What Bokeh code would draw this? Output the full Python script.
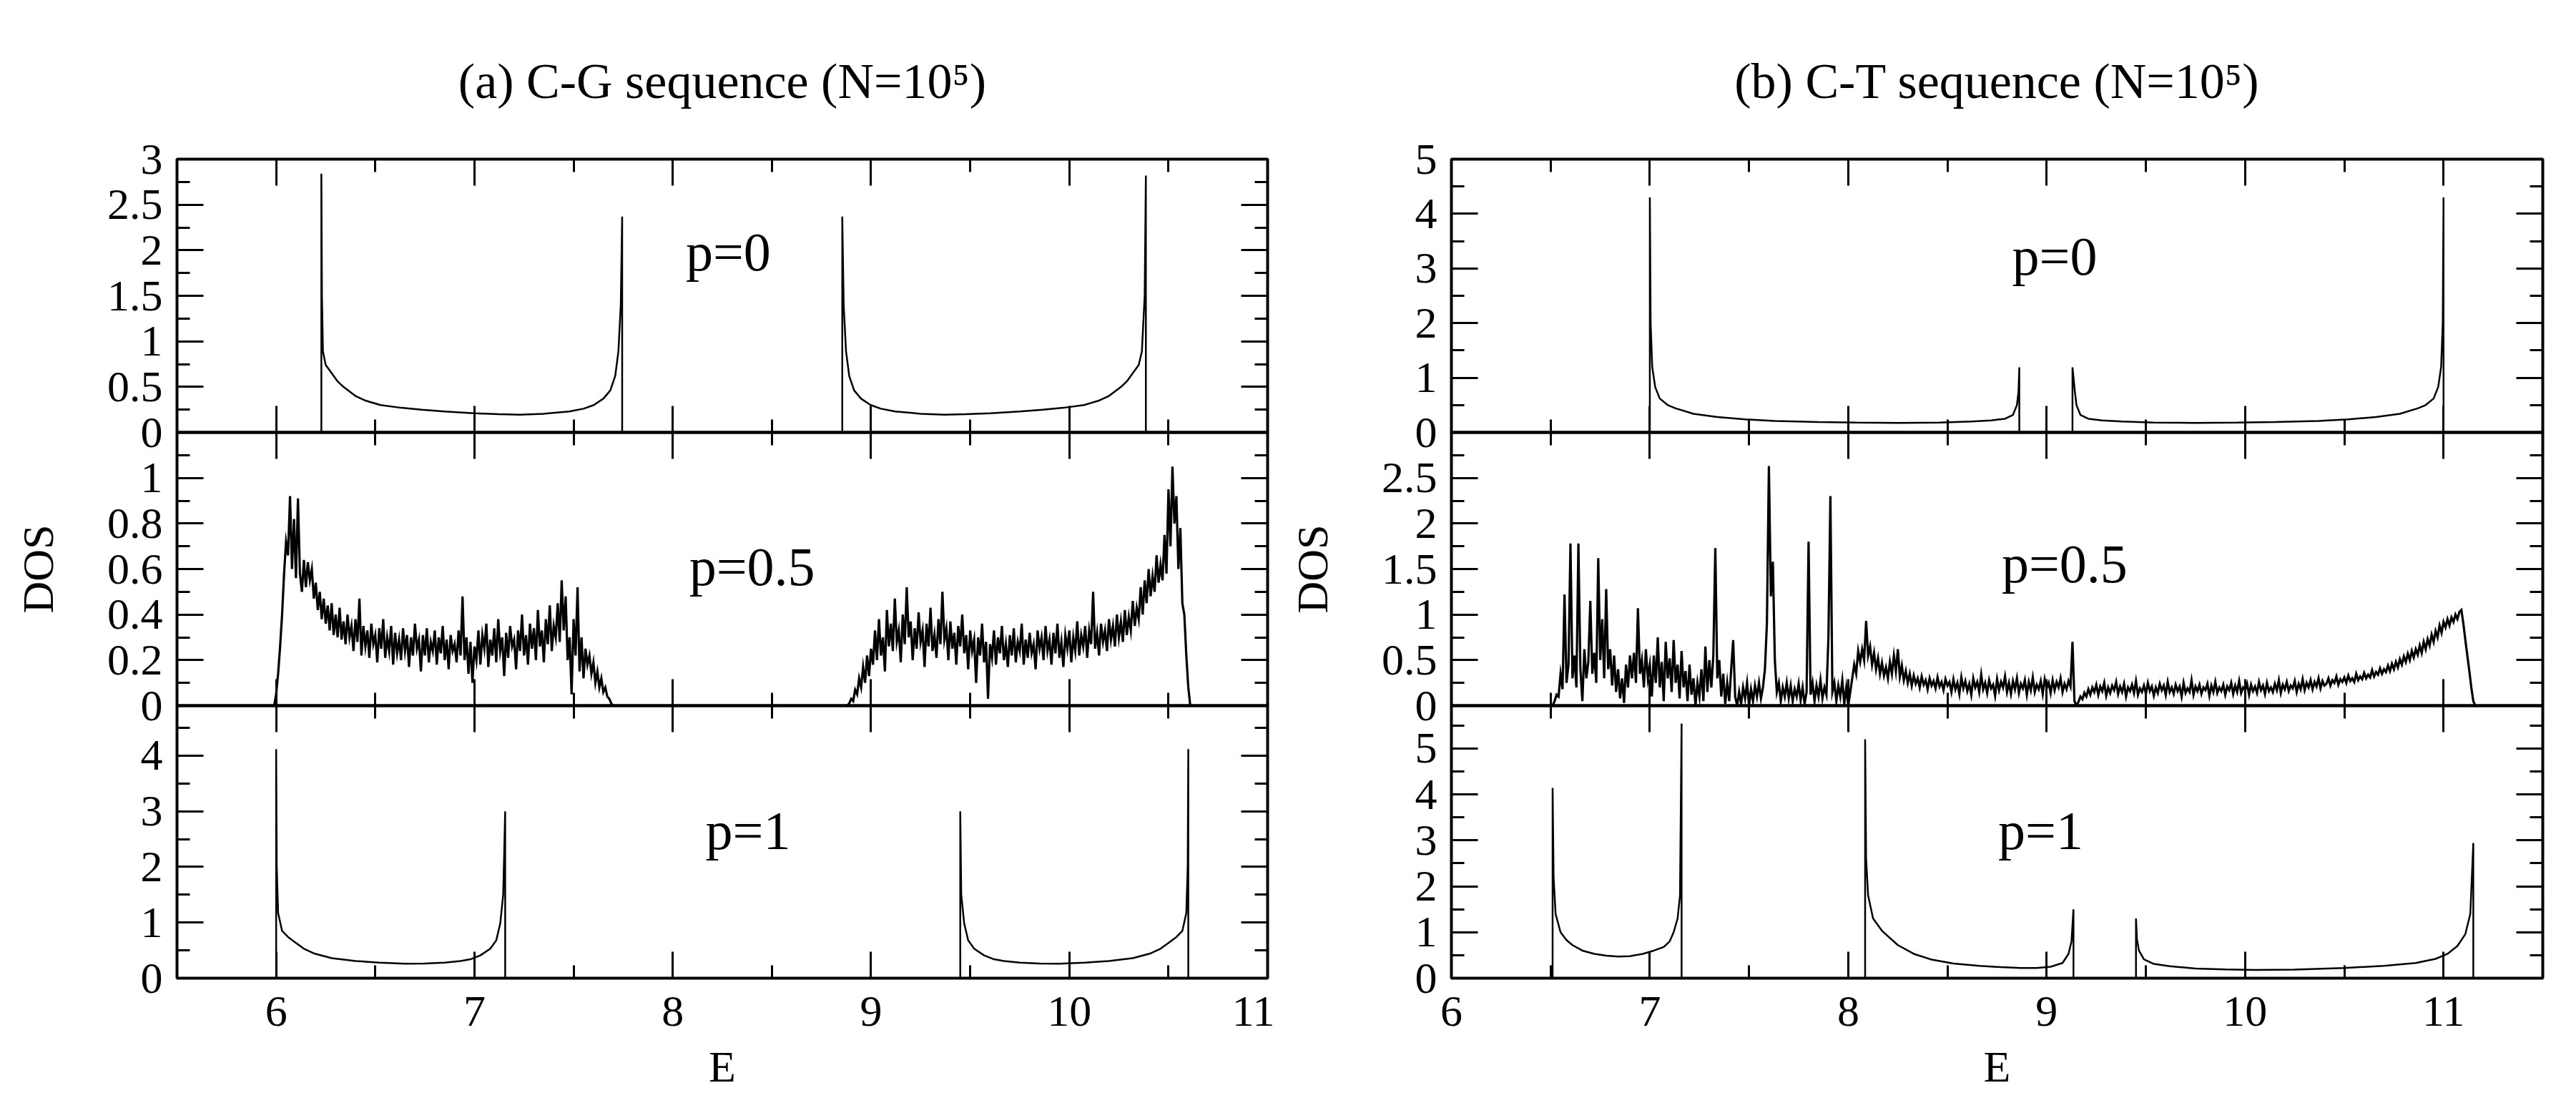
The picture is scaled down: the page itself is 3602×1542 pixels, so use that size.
import numpy as np
from bokeh.plotting import figure
from bokeh.layouts import row, column
from bokeh.models import (LinearAxis, FixedTicker, Range1d, Label, Title,
                          CustomJSTickFormatter)
from bokeh.embed import file_html
from bokeh.resources import INLINE

FONT = "Liberation Serif"

# ---------------- tick definitions ----------------
X_MAJOR = [6, 7, 8, 9, 10, 11]
X_MINOR_LEFT = [6.5, 7.5, 8.5, 9.5, 10.5]
X_MINOR_RIGHT = [6.5, 7.5, 8.5, 9.5, 10.5]

CG_P0_YMAJ = [0, 0.5, 1, 1.5, 2, 2.5, 3]
CG_P0_YMIN = [0.25, 0.75, 1.25, 1.75, 2.25, 2.75]
CG_P05_YMAJ = [0, 0.2, 0.4, 0.6, 0.8, 1.0]
CG_P05_YMIN = [0.1, 0.3, 0.5, 0.7, 0.9, 1.1]
CG_P1_YMAJ = [0, 1, 2, 3, 4]
CG_P1_YMIN = [0.5, 1.5, 2.5, 3.5, 4.5]
CT_P0_YMAJ = [0, 1, 2, 3, 4, 5]
CT_P0_YMIN = [0.5, 1.5, 2.5, 3.5, 4.5]
CT_P05_YMAJ = [0, 0.5, 1, 1.5, 2, 2.5]
CT_P05_YMIN = [0.25, 0.75, 1.25, 1.75, 2.25, 2.75]
CT_P1_YMAJ = [0, 1, 2, 3, 4, 5]
CT_P1_YMIN = [0.5, 1.5, 2.5, 3.5, 4.5, 5.5]

# ---------------- (a) C-G, p=0 ----------------
CG_P0_B1_E = [6.228, 6.228, 6.231, 6.236, 6.25, 6.277, 6.31, 6.339, 6.40, 6.45,
              6.526, 6.63, 6.733, 6.85, 6.998, 7.12, 7.229, 7.35, 7.478, 7.55,
              7.602, 7.65, 7.685, 7.71, 7.726, 7.738, 7.745, 7.745]
CG_P0_B1_D = [0, 2.84, 1.5, 0.89, 0.74, 0.66, 0.56, 0.5, 0.4, 0.35,
              0.30, 0.27, 0.25, 0.23, 0.21, 0.2, 0.195, 0.205, 0.23, 0.26,
              0.3, 0.37, 0.46, 0.62, 0.89, 1.4, 2.37, 0]
CG_P0_B2_E = [8.855, 8.855, 8.862, 8.874, 8.89, 8.915, 8.95, 8.998, 9.05, 9.122,
              9.25, 9.371, 9.48, 9.602, 9.75, 9.867, 9.97, 10.074, 10.15, 10.20,
              10.261, 10.29, 10.323, 10.35, 10.366, 10.38, 10.386, 10.386]
CG_P0_B2_D = [0, 2.37, 1.4, 0.89, 0.62, 0.46, 0.37, 0.3, 0.26, 0.23,
              0.205, 0.195, 0.2, 0.21, 0.23, 0.25, 0.27, 0.30, 0.35, 0.4,
              0.5, 0.56, 0.66, 0.74, 0.89, 1.5, 2.82, 0]

# ---------------- (a) C-G, p=0.5 (DOS on a 0.01 energy grid) ----------------
CG_P05_B1_START = 5.99
CG_P05_B1_D = [
    0.00, 0.05, 0.14, 0.26, 0.40, 0.58, 0.72, 0.66, 0.92, 0.60,
    0.82, 0.56, 0.91, 0.58, 0.50, 0.64, 0.52, 0.63, 0.55, 0.60,
    0.47, 0.54, 0.42, 0.50, 0.38, 0.47, 0.36, 0.44, 0.33, 0.45,
    0.31, 0.40, 0.30, 0.43, 0.29, 0.37, 0.27, 0.40, 0.30, 0.35,
    0.24, 0.38, 0.28, 0.47, 0.22, 0.35, 0.26, 0.33, 0.21, 0.36,
    0.27, 0.31, 0.19, 0.34, 0.25, 0.38, 0.21, 0.30, 0.24, 0.35,
    0.18, 0.32, 0.23, 0.29, 0.20, 0.34, 0.24, 0.31, 0.17, 0.30,
    0.22, 0.36, 0.25, 0.29, 0.15, 0.31, 0.22, 0.34, 0.19, 0.28,
    0.24, 0.33, 0.18, 0.30, 0.23, 0.35, 0.20, 0.29, 0.16, 0.31,
    0.24, 0.27, 0.19, 0.33, 0.22, 0.48, 0.20, 0.30, 0.14, 0.28,
    0.10, 0.26, 0.20, 0.33, 0.18, 0.31, 0.25, 0.36, 0.17, 0.29,
    0.22, 0.34, 0.19, 0.38, 0.24, 0.30, 0.13, 0.32, 0.21, 0.35,
    0.26, 0.29, 0.16, 0.33, 0.24, 0.40, 0.22, 0.31, 0.18, 0.36,
    0.25, 0.34, 0.20, 0.42, 0.26, 0.33, 0.19, 0.38, 0.27, 0.44,
    0.24, 0.35, 0.30, 0.45, 0.28, 0.55, 0.33, 0.48, 0.20, 0.30,
    0.05, 0.38, 0.22, 0.52, 0.15, 0.30, 0.12, 0.25, 0.18, 0.22,
    0.14, 0.19, 0.10, 0.15, 0.08, 0.12, 0.06, 0.08, 0.04, 0.03,
    0.01, 0.00]
CG_P05_B2_START = 8.88
CG_P05_B2_D = [
    0.00, 0.01, 0.03, 0.02, 0.07, 0.05, 0.12, 0.08, 0.17, 0.10,
    0.22, 0.13, 0.25, 0.18, 0.33, 0.20, 0.38, 0.22, 0.30, 0.15,
    0.42, 0.26, 0.36, 0.24, 0.47, 0.28, 0.33, 0.19, 0.40, 0.27,
    0.52, 0.30, 0.37, 0.20, 0.34, 0.25, 0.41, 0.28, 0.33, 0.17,
    0.36, 0.26, 0.43, 0.24, 0.31, 0.21, 0.38, 0.27, 0.50, 0.29,
    0.34, 0.20, 0.37, 0.25, 0.32, 0.18, 0.35, 0.26, 0.40, 0.23,
    0.31, 0.16, 0.33, 0.24, 0.29, 0.10, 0.30, 0.22, 0.36, 0.19,
    0.28, 0.03, 0.27, 0.21, 0.33, 0.18, 0.30, 0.23, 0.35, 0.20,
    0.27, 0.17, 0.31, 0.22, 0.34, 0.19, 0.28, 0.24, 0.36, 0.18,
    0.29, 0.21, 0.32, 0.23, 0.27, 0.16, 0.33, 0.25, 0.30, 0.20,
    0.35, 0.24, 0.29, 0.18, 0.32, 0.23, 0.36, 0.21, 0.28, 0.17,
    0.31, 0.25, 0.33, 0.19, 0.30, 0.24, 0.37, 0.22, 0.31, 0.26,
    0.35, 0.21, 0.33, 0.27, 0.50, 0.25, 0.32, 0.22, 0.36, 0.28,
    0.33, 0.24, 0.38, 0.29, 0.35, 0.26, 0.40, 0.30, 0.37, 0.28,
    0.42, 0.31, 0.39, 0.33, 0.46, 0.35, 0.43, 0.38, 0.52, 0.40,
    0.55, 0.45, 0.60, 0.48, 0.57, 0.50, 0.66, 0.54, 0.62, 0.55,
    0.75, 0.58, 0.95, 0.70, 1.05, 0.80, 0.92, 0.60, 0.78, 0.45,
    0.40, 0.22, 0.08, 0.00]

# ---------------- (a) C-G, p=1 ----------------
CG_P1_B1_E = [6.0, 6.0, 6.003, 6.01, 6.03, 6.06, 6.09, 6.14, 6.195, 6.28,
              6.40, 6.52, 6.65, 6.75, 6.85, 6.93, 6.98, 7.03, 7.08, 7.11,
              7.13, 7.145, 7.155, 7.155]
CG_P1_B1_D = [0, 4.12, 2.0, 1.17, 0.85, 0.74, 0.66, 0.53, 0.44, 0.36,
              0.31, 0.28, 0.26, 0.265, 0.28, 0.31, 0.34, 0.41, 0.53, 0.68,
              0.98, 1.5, 3.0, 0]
CG_P1_B2_E = [9.45, 9.45, 9.455, 9.47, 9.49, 9.52, 9.57, 9.62, 9.67, 9.75,
              9.85, 9.95, 10.08, 10.2, 10.32, 10.405, 10.46, 10.51, 10.54, 10.57,
              10.59, 10.597, 10.6, 10.6]
CG_P1_B2_D = [0, 3.0, 1.5, 0.98, 0.68, 0.53, 0.41, 0.34, 0.31, 0.28,
              0.265, 0.26, 0.28, 0.31, 0.36, 0.44, 0.53, 0.66, 0.74, 0.85,
              1.17, 2.0, 4.12, 0]

# ---------------- (b) C-T, p=0 ----------------
CT_P0_B1_E = [7.0, 7.0, 7.004, 7.012, 7.027, 7.05, 7.09, 7.13, 7.22, 7.34,
              7.48, 7.63, 7.85, 8.04, 8.25, 8.46, 8.62, 8.72, 8.79, 8.83,
              8.85, 8.858, 8.862, 8.862]
CT_P0_B1_D = [0, 4.3, 2.0, 1.2, 0.83, 0.62, 0.5, 0.44, 0.34, 0.28,
              0.24, 0.21, 0.19, 0.18, 0.175, 0.18, 0.2, 0.22, 0.25, 0.32,
              0.5, 0.75, 1.19, 0]
CT_P0_B2_E = [9.13, 9.13, 9.142, 9.15, 9.17, 9.21, 9.28, 9.38, 9.54, 9.75,
              9.96, 10.15, 10.37, 10.52, 10.66, 10.78, 10.87, 10.91, 10.95, 10.973,
              10.988, 10.996, 11.0, 11.0]
CT_P0_B2_D = [0, 1.19, 0.75, 0.5, 0.32, 0.25, 0.22, 0.2, 0.18, 0.175,
              0.18, 0.19, 0.21, 0.24, 0.28, 0.34, 0.44, 0.5, 0.62, 0.83,
              1.2, 2.0, 4.3, 0]

# ---------------- (b) C-T, p=0.5 (DOS on a 0.01 energy grid) ----------------
CT_P05_A_START = 6.50
CT_P05_A_D = [
    0.00, 0.00, 0.05, 0.12, 0.10, 0.35, 0.18, 1.22, 0.25, 0.45,
    1.78, 0.30, 0.55, 0.20, 1.78, 0.40, 0.05, 0.62, 0.30, 0.48,
    1.15, 0.35, 0.58, 0.25, 1.62, 0.50, 0.95, 0.30, 1.28, 0.40,
    0.62, 0.22, 0.55, 0.15, 0.40, 0.08, 0.30, 0.03, 0.45, 0.20,
    0.55, 0.30, 0.58, 0.25, 1.07, 0.35, 0.50, 0.20, 0.62, 0.30]
CT_P05_B_START = 7.00
CT_P05_B_D = [
    0.45, 0.10, 0.55, 0.25, 0.75, 0.20, 0.48, 0.05, 0.70, 0.30,
    0.52, 0.15, 0.72, 0.25, 0.45, 0.08, 0.60, 0.20, 0.38, 0.05,
    0.45, 0.12, 0.30, 0.00, 0.25, 0.10, 0.40, 0.05, 0.65, 0.15,
    0.50, 0.20, 0.55, 1.73, 0.30, 0.50, 0.10, 0.35, 0.02, 0.25,
    0.05, 0.40, 0.72, 0.10, 0.00, 0.15, 0.02, 0.20, 0.08, 0.25,
    0.00, 0.18, 0.05, 0.22, 0.10, 0.25, 0.08, 0.20, 0.40, 0.90,
    2.63, 1.20, 1.58, 0.50, 0.15, 0.25, 0.05, 0.20, 0.10, 0.25,
    0.08, 0.22, 0.05, 0.18, 0.10, 0.24, 0.06, 0.20, 0.02, 0.15,
    1.80, 0.12, 0.25, 0.05, 0.22, 0.10, 0.28, 0.08, 0.20, 0.12,
    0.75, 2.30, 0.15, 0.25, 0.05, 0.22, 0.10, 0.28, 0.02, 0.20]
CT_P05_C_START = 8.00
CT_P05_C_D = [
    0.00, 0.15, 0.30, 0.45, 0.35, 0.60, 0.48, 0.62, 0.50, 0.93,
    0.55, 0.65, 0.45, 0.58, 0.40, 0.52, 0.35, 0.47, 0.33, 0.42,
    0.30, 0.48, 0.35, 0.55, 0.38, 0.62, 0.32, 0.44, 0.28, 0.38,
    0.25, 0.35, 0.22, 0.33, 0.24, 0.30, 0.20, 0.32, 0.23, 0.28,
    0.18, 0.30, 0.22, 0.27, 0.19, 0.31, 0.21, 0.26, 0.17, 0.29,
    0.22]
CT_P05_D_START = 8.51
CT_P05_D_D = [
    0.26, 0.15, 0.29, 0.18, 0.25, 0.13, 0.31, 0.19, 0.27, 0.16,
    0.24, 0.12, 0.30, 0.20, 0.26, 0.15, 0.34, 0.18, 0.25, 0.14,
    0.28, 0.19, 0.23, 0.11, 0.29, 0.17, 0.26, 0.20, 0.32, 0.15,
    0.25, 0.13, 0.27, 0.18, 0.30, 0.14, 0.24, 0.19, 0.28, 0.12,
    0.26, 0.17, 0.31, 0.15, 0.23, 0.18, 0.27, 0.13, 0.29, 0.19,
    0.25, 0.14, 0.28, 0.17, 0.26, 0.20, 0.30, 0.15, 0.24, 0.18,
    0.27, 0.21]
CT_P05_E_START = 9.13
CT_P05_E_D = [0.70, 0.05, 0.00, 0.04, 0.10, 0.07, 0.14, 0.10, 0.18, 0.12, 0.20]
CT_P05_F_START = 9.24
CT_P05_F_D = [
    0.15, 0.23, 0.12, 0.21, 0.16, 0.25, 0.11, 0.20, 0.14, 0.22,
    0.17, 0.26, 0.13, 0.21, 0.15, 0.24, 0.10, 0.20, 0.16, 0.23,
    0.14, 0.27, 0.12, 0.19, 0.15, 0.22, 0.13, 0.25, 0.16, 0.21,
    0.11, 0.20, 0.14, 0.24, 0.17, 0.22, 0.12, 0.26, 0.15, 0.20,
    0.13, 0.23, 0.16, 0.21, 0.10, 0.25, 0.14, 0.19, 0.15, 0.28,
    0.12, 0.21, 0.16, 0.23, 0.13, 0.20, 0.17, 0.24, 0.11, 0.22,
    0.15, 0.26, 0.14, 0.20, 0.16, 0.23, 0.12, 0.21, 0.17, 0.25,
    0.13, 0.22, 0.15, 0.27, 0.14, 0.20, 0.17, 0.24, 0.12, 0.23,
    0.16, 0.21, 0.14, 0.26, 0.17, 0.22, 0.13, 0.25, 0.16, 0.20,
    0.15, 0.24, 0.17, 0.28, 0.14, 0.23, 0.18, 0.26, 0.16, 0.22,
    0.19, 0.27, 0.15, 0.24, 0.18, 0.29, 0.17, 0.25, 0.20, 0.28,
    0.18, 0.26, 0.21, 0.30, 0.19, 0.27, 0.22]
CT_P05_G_START = 10.41
CT_P05_G_D = [
    0.24, 0.30, 0.22, 0.28, 0.25, 0.32, 0.23, 0.29, 0.26, 0.31,
    0.25, 0.33, 0.27, 0.30, 0.26, 0.35, 0.28, 0.32, 0.29, 0.36,
    0.30, 0.34, 0.31, 0.39, 0.32, 0.37, 0.34, 0.41, 0.35, 0.40,
    0.37, 0.44, 0.38, 0.46, 0.40, 0.48, 0.42, 0.51, 0.45, 0.54,
    0.48, 0.57, 0.50, 0.60, 0.53, 0.62, 0.56, 0.66, 0.58, 0.70,
    0.62, 0.73, 0.66, 0.78, 0.70, 0.82, 0.75, 0.88, 0.80, 0.92]
CT_P05_H_START = 11.01
CT_P05_H_D = [0.86, 0.95, 0.88, 0.97, 0.92, 1.00, 0.95, 1.03, 1.05, 0.90,
              0.72, 0.55, 0.38, 0.20, 0.05, 0.00]

# ---------------- (b) C-T, p=1 ----------------
CT_P1_B1_E = [6.51, 6.51, 6.515, 6.525, 6.55, 6.58, 6.61, 6.66, 6.72, 6.78,
              6.84, 6.9, 6.965, 7.02, 7.07, 7.1, 7.12, 7.14, 7.152, 7.16, 7.16]
CT_P1_B1_D = [0, 4.14, 2.2, 1.4, 1.0, 0.83, 0.72, 0.6, 0.53, 0.49,
              0.47, 0.48, 0.53, 0.6, 0.68, 0.8, 1.0, 1.3, 1.8, 5.54, 0]
CT_P1_B2_E = [8.085, 8.085, 8.09, 8.10, 8.125, 8.17, 8.25, 8.33, 8.415, 8.53,
              8.66, 8.77, 8.87, 8.95, 9.02, 9.08, 9.11, 9.125, 9.135, 9.135]
CT_P1_B2_D = [0, 5.2, 2.6, 1.8, 1.3, 1.03, 0.72, 0.53, 0.41, 0.32,
              0.27, 0.24, 0.22, 0.22, 0.25, 0.33, 0.53, 0.8, 1.5, 0]
CT_P1_B3_E = [9.45, 9.45, 9.455, 9.465, 9.49, 9.54, 9.62, 9.75, 9.9, 10.05,
              10.25, 10.5, 10.7, 10.86, 10.96, 11.02, 11.07, 11.11, 11.135, 11.15, 11.15]
CT_P1_B3_D = [0, 1.3, 0.85, 0.6, 0.41, 0.31, 0.26, 0.21, 0.19, 0.18,
              0.185, 0.22, 0.27, 0.33, 0.42, 0.53, 0.7, 0.96, 1.4, 2.94, 0]


def on_grid(start, vals):
    return list(np.round(start + 0.01 * np.arange(len(vals)), 3))


OV = 40          # border kept above/below each inner panel so boundary labels are not cut
TOP_BORDER = 222
BOTTOM_BORDER = 160


def style_axis(ax, show_labels):
    ax.axis_line_color = None
    ax.major_tick_in = 37
    ax.major_tick_out = 0
    ax.minor_tick_in = 18
    ax.minor_tick_out = 0
    ax.major_tick_line_color = "black"
    ax.minor_tick_line_color = "black"
    ax.major_tick_line_width = 3
    ax.minor_tick_line_width = 3
    if show_labels:
        ax.major_label_text_font = FONT
        ax.major_label_text_font_size = "62px"
        ax.major_label_text_color = "black"
    else:
        ax.formatter = CustomJSTickFormatter(code="return ''")
        ax.major_label_standoff = 0


def panel(xr, yr, xminor, ymaj, ymin, frame_w, frame_h, pos,
          title=None, ylabel=None):
    top = pos == "top"
    bottom = pos == "bottom"
    p = figure(frame_width=frame_w, frame_height=frame_h,
               x_range=Range1d(*xr), y_range=Range1d(*yr),
               output_backend="svg", toolbar_location=None,
               title=None,
               min_border_left=247, min_border_right=10,
               min_border_top=TOP_BORDER if top else OV,
               min_border_bottom=BOTTOM_BORDER if bottom else OV,
               margin=(0, 0, 0, 0) if top else (-2 * OV, 0, 0, 0))
    p.xgrid.visible = False
    p.ygrid.visible = False
    p.outline_line_color = "black"
    p.outline_line_width = 4
    p.background_fill_color = None
    p.border_fill_color = None

    top_ax = LinearAxis()
    right_ax = LinearAxis()
    p.add_layout(top_ax, "above")
    p.add_layout(right_ax, "right")
    bot_ax = p.below[0]
    left_ax = p.left[0]
    for ax in (bot_ax, top_ax):
        ax.ticker = FixedTicker(ticks=X_MAJOR, minor_ticks=xminor)
    for ax in (left_ax, right_ax):
        ax.ticker = FixedTicker(ticks=ymaj, minor_ticks=ymin)
    style_axis(bot_ax, bottom)
    style_axis(top_ax, False)
    style_axis(left_ax, True)
    style_axis(right_ax, False)
    left_ax.major_label_standoff = 20
    if bottom:
        bot_ax.major_label_standoff = 26
        bot_ax.axis_label = "E"
        bot_ax.axis_label_text_font = FONT
        bot_ax.axis_label_text_font_size = "62px"
        bot_ax.axis_label_text_font_style = "normal"
        bot_ax.axis_label_text_color = "black"
        bot_ax.axis_label_standoff = 20
    if ylabel:
        left_ax.axis_label = ylabel
        left_ax.axis_label_text_font = FONT
        left_ax.axis_label_text_font_size = "62px"
        left_ax.axis_label_text_font_style = "normal"
        left_ax.axis_label_text_color = "black"
        left_ax.axis_label_standoff = 60
    if title:
        t = Title(text=title, align="center", text_font=FONT,
                  text_font_size="70px", text_font_style="normal",
                  text_color="black", standoff=142)
        p.add_layout(t, "above")
    return p


def add_label(p, x, y, text):
    p.add_layout(Label(x=x, y=y, text=text, text_font=FONT,
                       text_font_size="76px", text_align="center",
                       text_baseline="middle", text_color="black"))


LW = 2.5
LW_NOISY = 3.2
LEFT_X = (5.5, 11.0)
RIGHT_X = (6.0, 11.5)

# ---- left column: C-G ----
a1 = panel(LEFT_X, (0, 3), X_MINOR_LEFT, CG_P0_YMAJ, CG_P0_YMIN, 1525, 382, "top",
           title="(a) C-G sequence (N=10\u2075)")
a1.line(CG_P0_B1_E, CG_P0_B1_D, line_color="black", line_width=LW)
a1.line(CG_P0_B2_E, CG_P0_B2_D, line_color="black", line_width=LW)
add_label(a1, 8.28, 1.98, "p=0")

a2 = panel(LEFT_X, (0, 1.2), X_MINOR_LEFT, CG_P05_YMAJ, CG_P05_YMIN, 1525, 382, "mid",
           ylabel="DOS")
a2.line(on_grid(CG_P05_B1_START, CG_P05_B1_D), CG_P05_B1_D, line_color="black",
        line_width=LW_NOISY, line_join="miter")
a2.line(on_grid(CG_P05_B2_START, CG_P05_B2_D), CG_P05_B2_D, line_color="black",
        line_width=LW_NOISY, line_join="miter")
add_label(a2, 8.4, 0.61, "p=0.5")

a3 = panel(LEFT_X, (0, 4.9), X_MINOR_LEFT, CG_P1_YMAJ, CG_P1_YMIN, 1525, 381, "bottom")
a3.line(CG_P1_B1_E, CG_P1_B1_D, line_color="black", line_width=LW)
a3.line(CG_P1_B2_E, CG_P1_B2_D, line_color="black", line_width=LW)
add_label(a3, 8.38, 2.65, "p=1")

# ---- right column: C-T ----
b1 = panel(RIGHT_X, (0, 5), X_MINOR_RIGHT, CT_P0_YMAJ, CT_P0_YMIN, 1526, 382, "top",
           title="(b) C-T sequence (N=10\u2075)")
b1.line(CT_P0_B1_E, CT_P0_B1_D, line_color="black", line_width=LW)
b1.line(CT_P0_B2_E, CT_P0_B2_D, line_color="black", line_width=LW)
add_label(b1, 9.04, 3.23, "p=0")

b2 = panel(RIGHT_X, (0, 3), X_MINOR_RIGHT, CT_P05_YMAJ, CT_P05_YMIN, 1526, 382, "mid",
           ylabel="DOS")
ct_e = []
ct_d = []
for start, vals in [(CT_P05_A_START, CT_P05_A_D), (CT_P05_B_START, CT_P05_B_D),
                    (CT_P05_C_START, CT_P05_C_D), (CT_P05_D_START, CT_P05_D_D),
                    (CT_P05_E_START, CT_P05_E_D), (CT_P05_F_START, CT_P05_F_D),
                    (CT_P05_G_START, CT_P05_G_D), (CT_P05_H_START, CT_P05_H_D)]:
    ct_e += on_grid(start, vals)
    ct_d += vals
b2.line(ct_e, ct_d, line_color="black", line_width=LW_NOISY, line_join="miter")
add_label(b2, 9.09, 1.56, "p=0.5")

b3 = panel(RIGHT_X, (0, 5.93), X_MINOR_RIGHT, CT_P1_YMAJ, CT_P1_YMIN, 1526, 381, "bottom")
b3.line(CT_P1_B1_E, CT_P1_B1_D, line_color="black", line_width=LW)
b3.line(CT_P1_B2_E, CT_P1_B2_D, line_color="black", line_width=LW)
b3.line(CT_P1_B3_E, CT_P1_B3_D, line_color="black", line_width=LW)
add_label(b3, 8.97, 3.21, "p=1")

layout = row(column(a1, a2, a3), column(b1, b2, b3))
open("out.html", "w").write(file_html(layout, INLINE))
